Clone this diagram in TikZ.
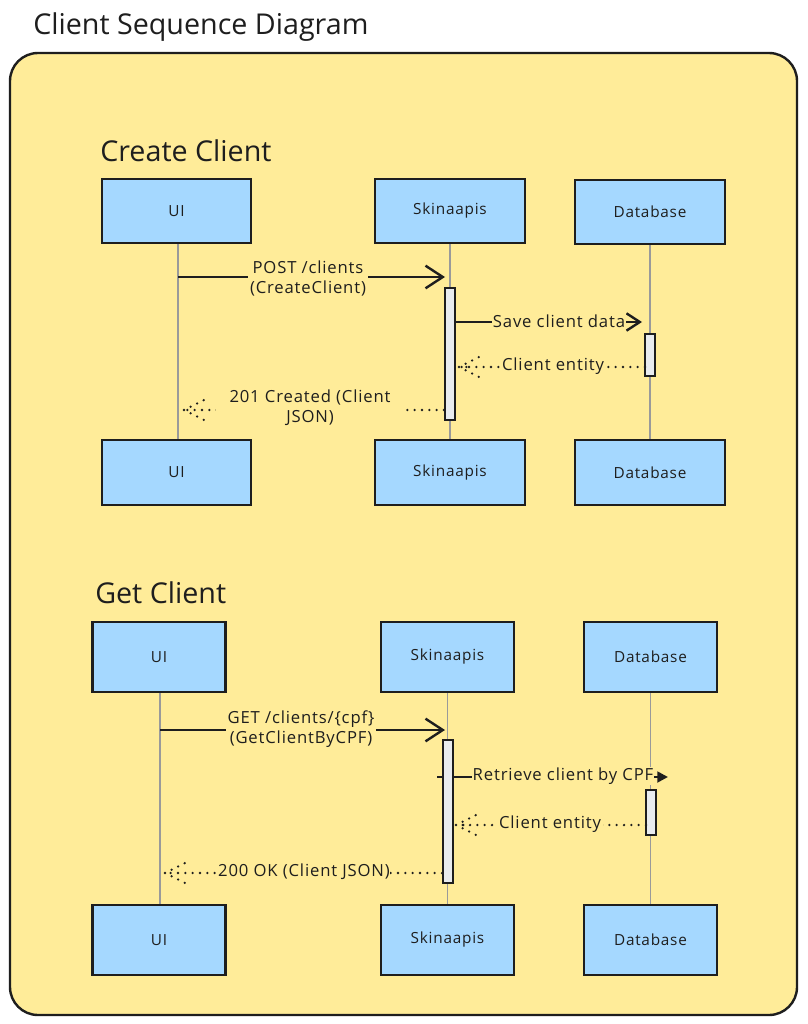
\documentclass[tikz,border=0pt]{standalone}
\usepackage{fontspec}
\setmainfont{Open Sans}
\usetikzlibrary{arrows.meta}
\definecolor{bgyel}{HTML}{FFEC99}
\definecolor{boxblue}{HTML}{A5D8FF}
\definecolor{actgray}{HTML}{E9ECEF}
\definecolor{ink}{HTML}{1E1E1E}
\definecolor{lifegray}{HTML}{9A9A9A}
\newfontfamily\msgfont[LetterSpace=5]{Open Sans}
\tikzset{
  actor/.style={draw=ink, fill=boxblue, line width=1.6pt, inner sep=0pt, font=\msgfont\fontsize{11.5}{13}\selectfont, text=ink},
  actbox/.style={draw=ink, fill=actgray, line width=1.2pt, inner sep=0pt, minimum width=7.5pt},
  lifeline/.style={draw=lifegray, line width=0.8pt},
  callarrow/.style={draw=ink, line width=2.2pt, -{Straight Barb[length=13pt,width=17pt,line width=1.8pt]}},
  retline/.style={draw=ink, line width=1.9pt, line cap=round, dash pattern=on 0pt off 5.5pt},
  msglabel/.style={fill=bgyel, inner sep=1.5pt, text=ink, font=\msgfont\fontsize{12.5}{15}\selectfont, align=center},
  heading/.style={anchor=west, text=ink, font=\fontsize{21.5}{25}\selectfont, inner sep=0pt},
}
\begin{document}
\begin{tikzpicture}[x=0.75pt,y=-0.75pt]
\useasboundingbox (0,0) rectangle (807,1024);
\fill[white] (0,0) rectangle (807,1024);
% container
\draw[draw=ink, fill=bgyel, line width=1.8pt, rounded corners=21pt] (10,53) rectangle (797,1015);
\node[heading] (title) at (33,27) {Client Sequence Diagram};

% ---------- Create Client ----------
\node[heading] (h1) at (100,151) {Create Client};
\node[actor, minimum width=111.75pt, minimum height=48pt] (ui1) at (176.5,211) {UI};
\node[actor, minimum width=112.5pt, minimum height=48pt] (sk1) at (450,211) {Skinaapis};
\node[actor, minimum width=112.5pt, minimum height=48pt] (db1) at (650,212) {Database};
\node[actor, minimum width=111.75pt, minimum height=48.75pt] (ui1b) at (176.5,472.5) {UI};
\node[actor, minimum width=112.5pt, minimum height=48.75pt] (sk1b) at (450,472.5) {Skinaapis};
\node[actor, minimum width=112.5pt, minimum height=48.75pt] (db1b) at (650,472.5) {Database};
\draw[lifeline] (ui1.south -| 178,0) -- (ui1b.north -| 178,0);
\draw[lifeline] (sk1) -- (sk1b);
\draw[lifeline] (db1) -- (db1b);
\node[actbox, minimum height=99pt] (a1) at (450,354) {};
\node[actbox, minimum height=31.5pt] (d1) at (650,355) {};

\coordinate (m1s) at (178,277); \coordinate (m1e) at (445,277);
\draw[callarrow] (m1s) -- (m1e);
\node[msglabel] (l1) at (308,278) {POST /clients\\(CreateClient)};

\coordinate (m2s) at (455,322); \coordinate (m2e) at (642,322);
\draw[callarrow, -{Straight Barb[length=10pt,width=13pt,line width=1.8pt]}] (m2s) -- (m2e);
\node[msglabel, inner sep=0.5pt] (l2) at (559,321) {Save client data};

\coordinate (m3s) at (645,367); \coordinate (m3e) at (459,367);
\draw[retline] (m3s) -- (m3e);
\draw[retline] (m3e) -- ++(20,-10) (m3e) -- ++(20,10) (m3e) -- ++(12,0);
\node[msglabel] (l3) at (553,366) {Client entity};

\coordinate (m4s) at (444,410); \coordinate (m4e) at (184,410);
\draw[retline] (m4s) -- (m4e);
\draw[retline] (m4e) -- ++(20,-10) (m4e) -- ++(20,10);
\node[msglabel, inner xsep=10pt] (l4) at (310,408) {201 Created (Client\\JSON)};

% ---------- Get Client ----------
\node[heading] (h2) at (95,593) {Get Client};
\node[actor, minimum width=99.75pt, minimum height=52.5pt] (ui2) at (159,657) {UI};
\node[actor, minimum width=99.75pt, minimum height=52.5pt] (sk2) at (447.5,657) {Skinaapis};
\node[actor, minimum width=99.75pt, minimum height=52.5pt] (db2) at (650.5,657) {Database};
\node[actor, minimum width=99.75pt, minimum height=52.5pt] (ui2b) at (159,940) {UI};
\node[actor, minimum width=99.75pt, minimum height=52.5pt] (sk2b) at (447.5,940) {Skinaapis};
\node[actor, minimum width=99.75pt, minimum height=52.5pt] (db2b) at (650.5,940) {Database};
\draw[lifeline] (ui2.south -| 160,0) -- (ui2b.north -| 160,0);
\draw[lifeline] (sk2) -- (sk2b);
\draw[lifeline] (db2) -- (db2b);

\coordinate (m5s) at (160,730); \coordinate (m5e) at (445,730);
\draw[callarrow] (m5s) -- (m5e);
\node[msglabel] (l5) at (301,729) {GET /clients/\{cpf\}\\(GetClientByCPF)};

\coordinate (m6s) at (437,777); \coordinate (m6e) at (668,777);
\draw[draw=ink, line width=2.2pt, -{Triangle[length=8pt,width=8pt]}] (m6s) -- (m6e);
\node[msglabel, inner sep=0.5pt] (l6) at (563,776) {Retrieve client by CPF};

\node[actbox, minimum height=107.25pt] (a2) at (448,811.5) {};
\node[actbox, minimum height=33.75pt] (d2) at (651,812.5) {};

\coordinate (m7s) at (646,825); \coordinate (m7e) at (456,825);
\draw[retline] (m7s) -- (m7e);
\draw[retline] (m7e) -- ++(20,-10) (m7e) -- ++(20,10) (m7e) -- ++(12,0);
\node[msglabel] (l7) at (550,824) {Client entity};

\coordinate (m8s) at (442,873); \coordinate (m8e) at (165,873);
\draw[retline] (m8s) -- (m8e);
\draw[retline] (m8e) -- ++(20,-10) (m8e) -- ++(20,10);
\node[msglabel, inner sep=0.5pt] (l8) at (304,872) {200 OK (Client JSON)};
\end{tikzpicture}
\end{document}
